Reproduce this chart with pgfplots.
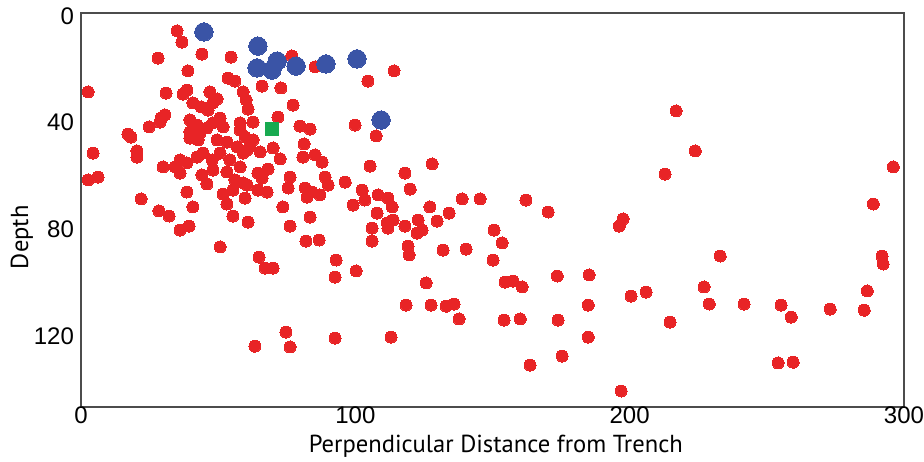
\documentclass[border=0pt]{standalone}
\usepackage{fontspec}
\setmainfont{PT Sans}
\newfontfamily\tickfont{Liberation Sans}
\usepackage{pgfplots}
\usepackage{pgfplotstable}
\pgfplotsset{compat=1.18}
\definecolor{dotred}{RGB}{232,36,38}
\definecolor{dotblue}{RGB}{58,84,166}
\definecolor{sqgreen}{RGB}{24,170,80}

\pgfplotstableread{
x y
35.0 5.6
36.8 9.8
28.1 15.8
44.1 14.3
54.7 15.4
76.9 15.0
85.3 19.1
39.0 20.6
53.6 23.3
56.1 24.4
66.0 26.3
72.9 27.0
104.6 24.4
114.1 20.6
2.6 28.5
31.0 28.9
38.6 27.8
37.2 29.3
47.0 28.5
59.1 28.5
60.2 31.5
60.9 34.9
40.8 32.6
43.8 34.1
48.1 32.6
49.6 31.1
46.3 35.3
77.3 33.4
71.8 37.9
62.7 39.8
58.0 40.1
79.8 41.3
83.5 42.4
99.9 40.9
107.6 45.0
30.6 37.1
29.2 38.3
28.8 39.8
24.8 41.6
17.1 44.3
18.2 45.4
4.4 51.4
20.4 50.6
20.4 52.9
39.7 39.0
42.3 40.9
39.7 43.5
43.4 43.9
45.9 42.0
48.1 40.1
50.7 38.3
51.8 41.6
42.7 46.5
39.7 45.8
49.6 46.5
53.2 47.3
58.0 42.8
59.8 45.4
56.9 49.1
60.5 50.3
81.3 48.0
36.1 54.0
38.6 55.1
34.3 56.6
29.9 56.6
42.3 52.9
44.5 51.4
47.8 54.0
50.7 51.4
54.3 54.0
58.0 56.6
48.1 57.8
53.2 58.5
6.2 60.4
2.6 61.5
21.9 68.6
28.4 73.1
32.1 75.0
38.6 66.0
40.8 71.6
36.1 80.3
39.4 78.8
50.7 86.6
45.9 63.0
44.1 59.6
36.1 58.9
51.8 66.8
53.2 70.5
55.4 65.3
56.1 61.5
59.1 62.6
59.8 68.3
55.4 75.0
60.9 77.3
80.9 52.9
85.3 52.1
87.9 54.8
72.6 53.6
70.0 49.5
65.3 51.0
61.6 49.1
59.1 51.4
62.7 46.5
105.4 56.3
118.1 58.9
68.2 57.4
64.5 58.9
66.0 60.8
76.2 60.4
75.5 64.5
89.0 60.4
90.1 63.4
96.3 62.3
60.5 63.4
64.5 65.3
67.8 66.0
81.7 64.5
84.2 66.0
87.1 67.1
82.4 67.9
102.5 65.3
103.5 69.0
99.2 70.9
108.3 67.1
111.9 68.3
113.4 71.6
107.9 73.9
111.6 77.6
113.8 76.5
118.1 78.8
73.6 71.6
83.5 75.4
76.2 78.8
106.1 79.5
82.0 84.4
86.8 84.0
64.9 90.4
67.1 94.5
70.0 94.5
93.0 91.5
92.6 97.9
100.3 95.6
106.1 84.4
111.9 79.5
122.5 81.4
124.3 80.3
119.2 86.3
119.6 89.6
128.0 55.5
120.0 64.9
138.9 68.6
145.5 68.6
162.2 69.0
170.3 73.5
127.2 71.6
134.2 73.9
122.9 76.5
129.8 76.9
150.6 80.3
132.0 87.8
140.4 87.4
153.5 85.1
150.2 91.5
125.8 100.1
154.6 99.8
157.5 99.4
160.8 101.6
173.6 97.5
185.2 97.1
216.9 35.6
223.9 50.6
212.9 59.3
197.6 76.1
196.2 78.8
296.1 56.6
288.8 70.5
233.0 90.0
292.0 90.0
292.4 93.0
200.5 105.0
206.0 103.5
227.1 101.6
229.0 108.0
241.7 108.0
255.2 108.4
258.9 112.9
273.1 109.9
285.5 110.3
286.6 103.1
214.7 114.8
118.5 108.4
127.6 108.4
133.1 108.8
136.0 108.0
137.8 113.6
154.2 114.0
160.1 113.6
173.9 114.0
184.9 108.4
74.7 118.5
63.4 123.8
76.2 124.1
92.6 120.8
113.0 120.4
184.9 120.4
175.4 127.5
163.7 130.9
196.9 140.6
254.1 130.1
259.6 129.8
}\reddata

\pgfplotstableread{
x y
44.8 6.0
64.5 11.3
64.2 19.5
69.6 20.3
71.5 16.9
78.4 18.8
89.3 18.0
100.6 16.1
109.4 39.0
}\bluedata

\pgfplotstableread{
x y
69.6 42.4
}\greendata

\begin{document}
\begin{tikzpicture}
\begin{axis}[
  scale only axis, width=411.5pt, height=197pt,
  xmin=0, xmax=300, ymin=-1.1, ymax=146.6, y dir=reverse,
  xtick={0,100,200,300}, ytick={0,40,80,120},
  major tick length=0pt,
  axis line style={line width=1.2pt, draw=black!70},
  /pgf/number format/assume math mode=true,
  tick label style={font=\tickfont\fontsize{12}{14}\selectfont},
  xticklabel style={yshift=1.5pt, inner sep=1pt},
  xlabel={Perpendicular Distance from Trench},
  ylabel={Depth},
  label style={font=\fontsize{12.3}{14}\selectfont},
  xlabel style={at={(axis description cs:0.504,-0.1)}, anchor=center, inner sep=0pt},
  ylabel style={at={(axis description cs:-0.0717,0.431)}, anchor=center},
  clip=false,
]
\coordinate (sw) at (axis description cs:0,0);
\coordinate (ne) at (axis description cs:1,1);
\addplot[only marks, color=dotred, mark=*, mark size=3pt, mark options={draw=dotred, fill=dotred, line width=0pt}] table {\reddata};
\addplot[only marks, color=dotblue, mark=*, mark size=4.6pt, mark options={draw=dotblue, fill=dotblue, line width=0pt}] table {\bluedata};
\addplot[only marks, color=sqgreen, mark=square*, mark size=3.3pt, mark options={draw=sqgreen, fill=sqgreen, line width=0pt}] table {\greendata};
\end{axis}
\pgfresetboundingbox
\path[use as bounding box] ([shift={(-40.5pt,-27pt)}]sw) rectangle ([shift={(10pt,6.5pt)}]ne);
\end{tikzpicture}
\end{document}
